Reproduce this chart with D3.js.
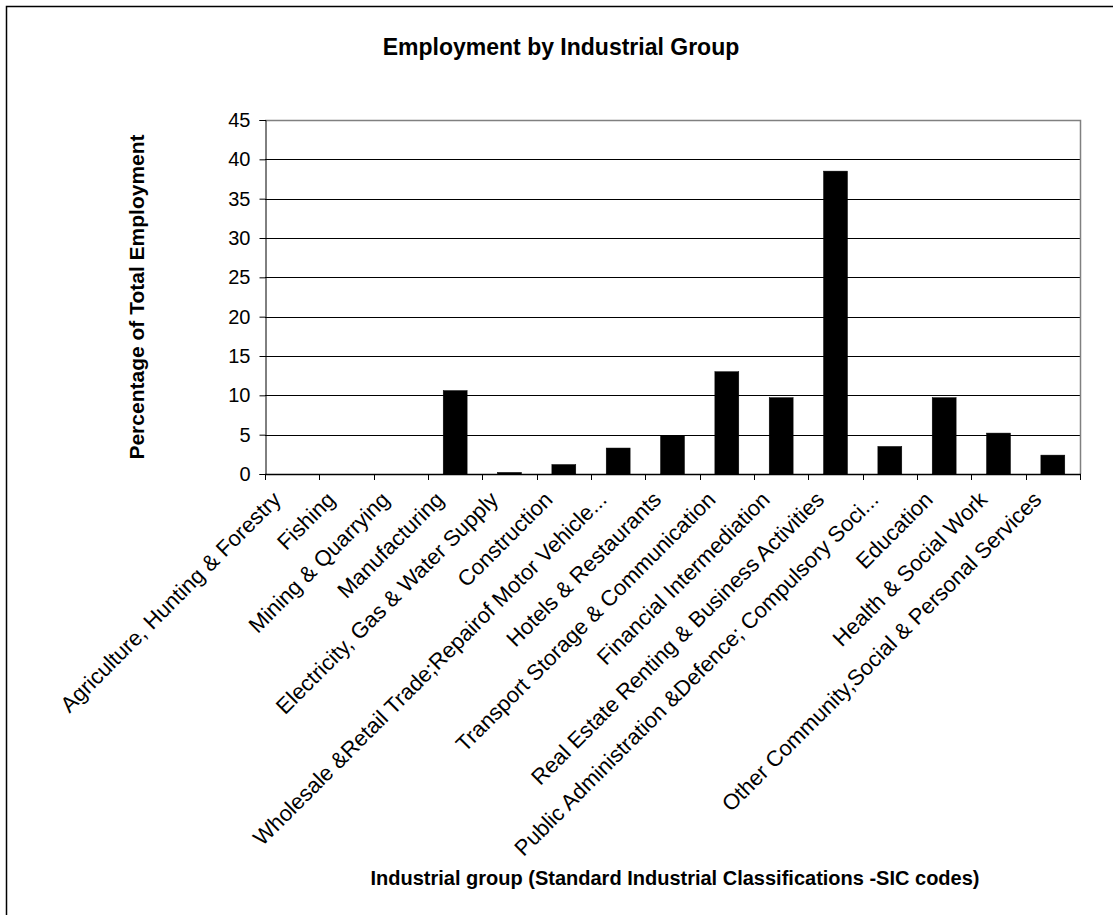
<!DOCTYPE html>
<html>
<head>
<meta charset="utf-8">
<script src="https://cdn.jsdelivr.net/npm/d3@7"></script>
<style>
  html, body { margin: 0; padding: 0; background: #fff; }
  svg { display: block; font-family: Arial, "Liberation Sans", sans-serif; }
</style>
</head>
<body>
<svg id="chart" width="1113" height="915"></svg>
<script>
// Share of total employment by SIC industrial group (%)
const categories = [
  "Agriculture, Hunting & Forestry",
  "Fishing",
  "Mining & Quarrying",
  "Manufacturing",
  "Electricity, Gas & Water Supply",
  "Construction",
  "Wholesale &Retail Trade;Repairof Motor Vehicle...",
  "Hotels & Restaurants",
  "Transport Storage & Communication",
  "Financial Intermediation",
  "Real Estate Renting & Business Activities",
  "Public Administration &Defence; Compulsory Soci...",
  "Education",
  "Health & Social Work",
  "Other Community,Social & Personal Services"
];
const values = [0, 0, 0, 10.6, 0.2, 1.2, 3.3, 4.9, 13.0, 9.7, 38.5, 3.5, 9.7, 5.2, 2.4];
const yTicks = [0, 5, 10, 15, 20, 25, 30, 35, 40, 45];

const titleText = "Employment by Industrial Group";
const yTitleText = "Percentage of Total Employment";
const xTitleText = "Industrial group (Standard Industrial Classifications -SIC codes)";

const svg = d3.select("#chart");
const W = 1113, H = 915;
const plot = { left: 265, right: 1080, top: 120, bottom: 474 };

svg.append("rect").attr("width", W).attr("height", H).attr("fill", "#fff");

// outer chart frame
svg.append("rect")
  .attr("x", 6.5).attr("y", 6.5)
  .attr("width", 1200).attr("height", 1000)
  .attr("fill", "none").attr("stroke", "#000").attr("stroke-width", 1.5);

const x = d3.scaleBand()
  .domain(categories)
  .range([plot.left, plot.right])
  .paddingInner(0.56)
  .paddingOuter(0.28);

const y = d3.scaleLinear()
  .domain([0, 45])
  .range([plot.bottom, plot.top]);

// horizontal gridlines
svg.append("g")
  .selectAll("line")
  .data(yTicks.filter(t => t > 0 && t < 45))
  .join("line")
  .attr("x1", plot.left).attr("x2", plot.right)
  .attr("y1", d => Math.round(y(d)) + 0.5).attr("y2", d => Math.round(y(d)) + 0.5)
  .attr("stroke", "#000").attr("stroke-width", 1);

// plot frame (top and right)
svg.append("path")
  .attr("d", `M${plot.left},${plot.top + 0.5}H${plot.right + 0.5}V${plot.bottom}`)
  .attr("fill", "none").attr("stroke", "#808080").attr("stroke-width", 1.5);

// bars
svg.append("g")
  .selectAll("rect")
  .data(categories.map((c, i) => ({ c, v: values[i] })))
  .join("rect")
  .attr("x", d => x(d.c))
  .attr("width", x.bandwidth())
  .attr("y", d => y(d.v))
  .attr("height", d => y(0) - y(d.v))
  .attr("fill", "#000")
  .attr("stroke", "#000")
  .attr("stroke-width", 0.5);

// y axis
const yAxis = d3.axisLeft(y).tickValues(yTicks).tickSize(6).tickPadding(9);
const gy = svg.append("g")
  .attr("transform", `translate(${plot.left + 0.5},0)`)
  .call(yAxis);
gy.select(".domain").attr("stroke", "#000");
gy.selectAll(".tick line").attr("stroke", "#000");
gy.selectAll(".tick text")
  .attr("font-size", 20)
  .attr("font-family", "Arial, 'Liberation Sans', sans-serif")
  .attr("fill", "#000");

// x axis line and boundary ticks
const step = x.step();
const bounds = d3.range(categories.length + 1).map(i => plot.left + i * step);
const gx = svg.append("g");
gx.append("line")
  .attr("x1", plot.left).attr("x2", plot.right + 1)
  .attr("y1", plot.bottom + 0.5).attr("y2", plot.bottom + 0.5)
  .attr("stroke", "#000").attr("stroke-width", 1.5);
gx.selectAll("line.tk")
  .data(bounds)
  .join("line").attr("class", "tk")
  .attr("x1", d => Math.round(d) + 0.5).attr("x2", d => Math.round(d) + 0.5)
  .attr("y1", plot.bottom).attr("y2", plot.bottom + 6)
  .attr("stroke", "#000");

// rotated category labels
gx.selectAll("text")
  .data(categories)
  .join("text")
  .attr("transform", d => `translate(${x(d) + x.bandwidth() / 2 - 10},${plot.bottom + 27}) rotate(-45)`)
  .attr("text-anchor", "end")
  .attr("font-size", 22)
  .attr("fill", "#000")
  .text(d => d);

// titles
svg.append("text")
  .attr("x", 561).attr("y", 55)
  .attr("text-anchor", "middle")
  .attr("font-size", 23).attr("font-weight", "bold")
  .text(titleText);

svg.append("text")
  .attr("transform", `translate(144,${(plot.top + plot.bottom) / 2}) rotate(-90)`)
  .attr("text-anchor", "middle")
  .attr("font-size", 21).attr("font-weight", "bold")
  .text(yTitleText);

svg.append("text")
  .attr("x", 675).attr("y", 885)
  .attr("text-anchor", "middle")
  .attr("font-size", 20).attr("font-weight", "bold")
  .text(xTitleText);
</script>
</body>
</html>
